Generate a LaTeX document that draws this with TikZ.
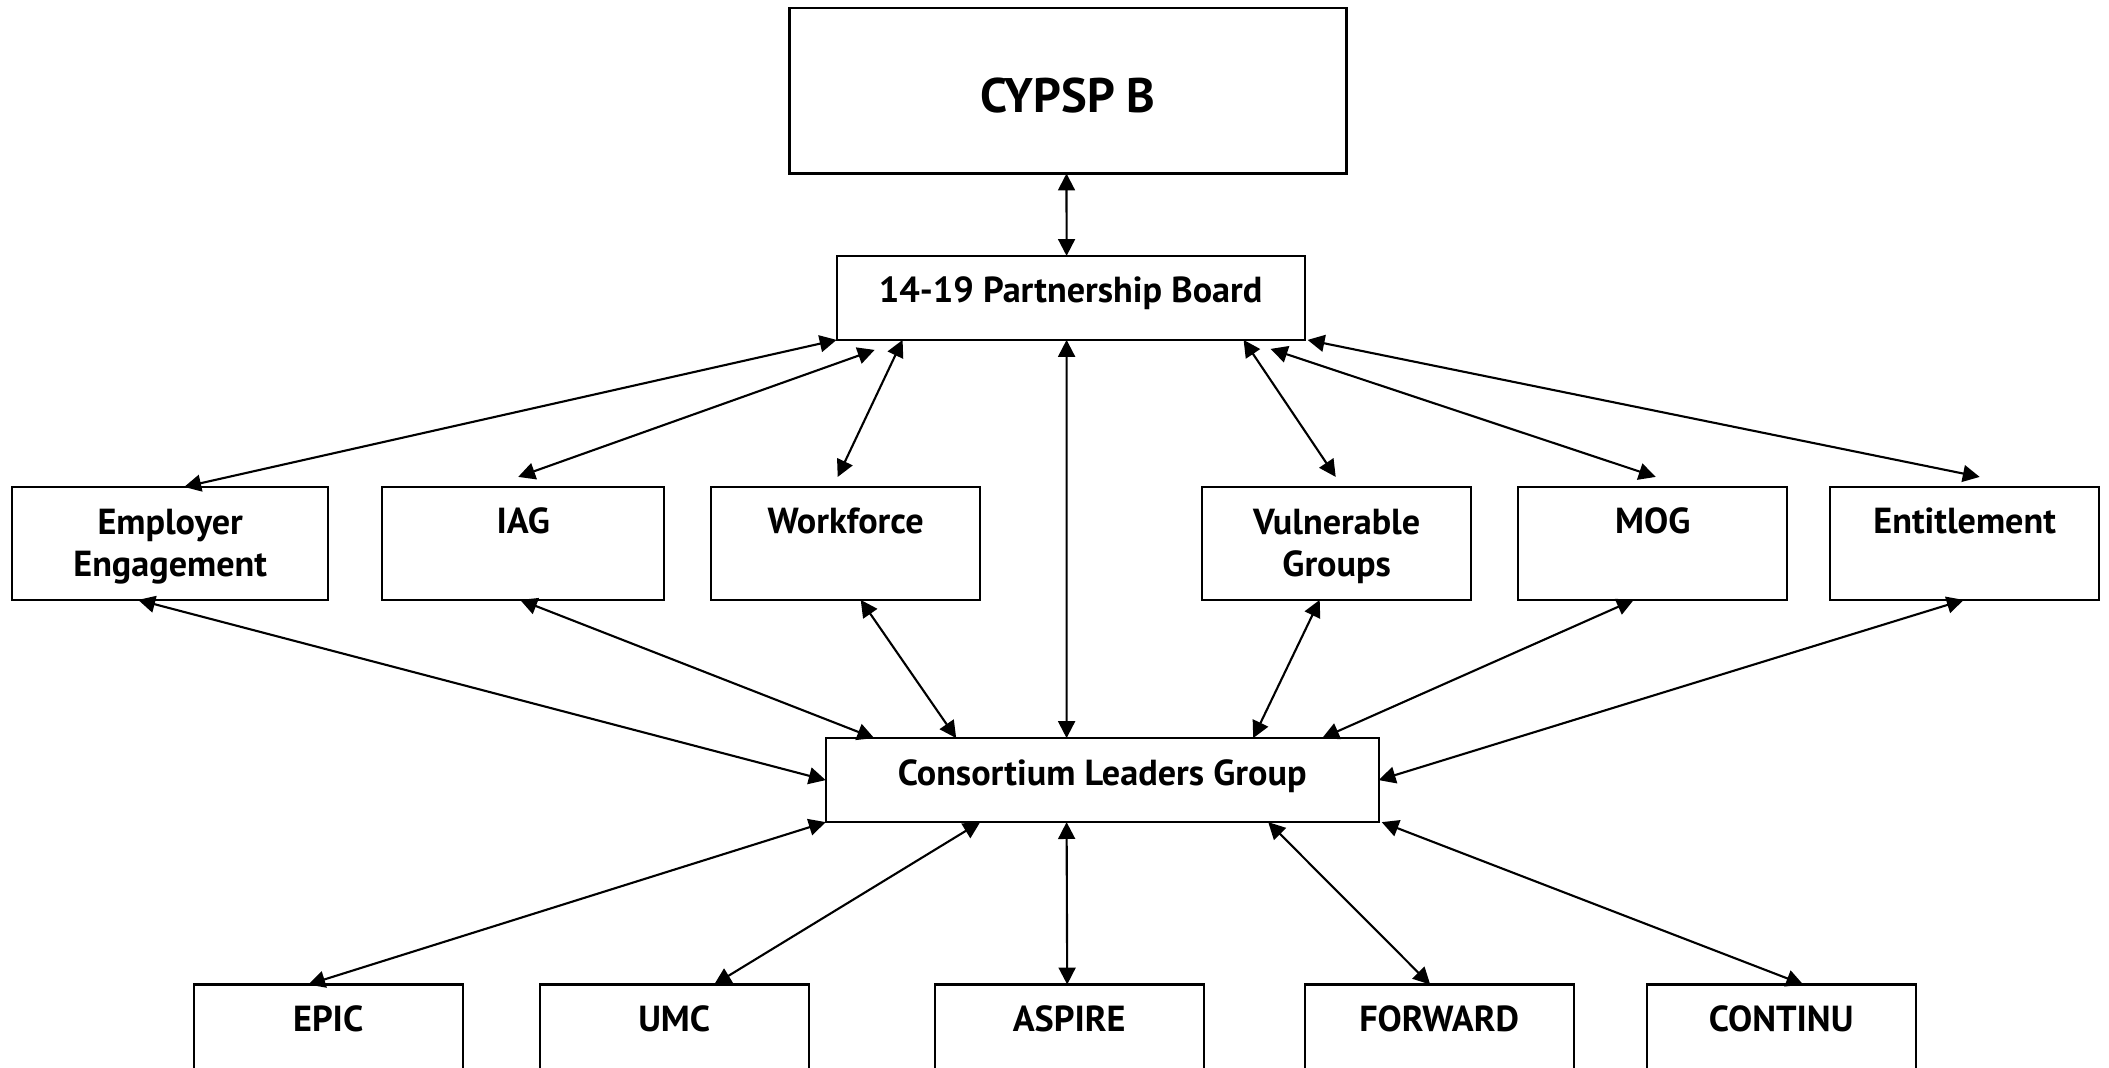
\documentclass[tikz,border=0pt]{standalone}
\usepackage{fontspec}
\setmainfont{PT Sans}
\usetikzlibrary{arrows.meta}
\usetikzlibrary{positioning}

\begin{document}
\begin{tikzpicture}[<->,>={Triangle[length=4.8pt,width=4.8pt]},line width=0.6pt,
			font=\fontsize{10.3}{12.2}\selectfont\bfseries]
			\tikzstyle{box}=[draw,-,outer sep=0pt,inner xsep=2pt,inner ysep=0pt,align=center,
			text height=0.47cm,text depth=0.66cm,minimum width=2.69cm]
			\tikzstyle{twoline}=[box,text height=0.90cm,text depth=0.23cm]
			\tikzstyle{bar}=[box,text depth=0.37cm]
			\path[use as bounding box,clip] (0,0) rectangle (21.09,-10.67);
			
			\node[box,minimum width=5.57cm,text height=1.045cm,text depth=0.609cm,
			font=\fontsize{13.8}{16}\selectfont\bfseries] (cypsp) at (10.68,-0.908) {CYPSP B};
			\node[bar,minimum width=4.68cm]      (board) at (10.706,-2.979) {14-19 Partnership Board};
			
			\node[twoline,minimum width=3.16cm]  (emp) at (1.702,-5.434) {Employer\\Engagement};
			\node[box,minimum width=2.82cm]      (iag)  [right=0.54cm of emp]  {IAG};
			\node[box]                           (work) [right=0.47cm of iag]  {Workforce};
			\node[twoline]                       (vul)  [right=2.22cm of work] {Vulnerable\\Groups};
			\node[box]                           (mog)  [right=0.47cm of vul]  {MOG};
			\node[box]                           (ent)  [right=0.43cm of mog]  {Entitlement};
			
			\node[bar,minimum width=5.53cm]      (clg) at (11.022,-7.801) {Consortium Leaders Group};
			
			\node[box]                           (epic) at (3.282,-10.41) {EPIC};
			\node[box]                           (umc)     [right=0.77cm of epic]   {UMC};
			\node[box]                           (aspire)  [right=1.26cm of umc]    {ASPIRE};
			\node[box]                           (forward) [right=1.01cm of aspire] {FORWARD};
			\node[box]                           (continu) [right=0.73cm of forward] {CONTINU};
			
			
			\path ([xshift=-0.015cm]cypsp.south) edge ([xshift=-0.04cm]board.north)
			(board.south west) edge ([xshift=0.14cm]emp.north)
			([xshift=-1.96cm,yshift=-0.1cm]board.south) edge ([xshift=-0.05cm,yshift=0.1cm]iag.north)
			([xshift=-1.68cm]board.south) edge ([xshift=-0.08cm,yshift=0.1cm]work.north)
			([xshift=-0.04cm]board.south) edge ([xshift=-0.356cm]clg.north)
			([xshift=1.73cm]board.south) edge ([xshift=-0.01cm,yshift=0.1cm]vul.north)
			([xshift=2.0cm,yshift=-0.09cm]board.south) edge ([xshift=0.03cm,yshift=0.1cm]mog.north)
			([xshift=0.03cm]board.south east) edge ([xshift=0.15cm,yshift=0.1cm]ent.north)
			
			([xshift=-0.32cm]emp.south) edge (clg.west)
			([xshift=-0.03cm]iag.south) edge ([xshift=-2.28cm]clg.north)
			([xshift=0.15cm]work.south) edge ([xshift=-1.46cm]clg.north)
			([xshift=-0.17cm]vul.south) edge ([xshift=1.51cm]clg.north)
			([xshift=-0.19cm]mog.south) edge ([xshift=2.2cm]clg.north)
			([xshift=-0.01cm]ent.south) edge (clg.east)
			
			(clg.south west) edge ([xshift=-0.2cm]epic.north)
			([xshift=-1.22cm]clg.south) edge ([xshift=0.4cm]umc.north)
			([xshift=-0.356cm]clg.south) edge ([xshift=-0.02cm]aspire.north)
			([xshift=1.66cm]clg.south) edge ([xshift=-0.09cm]forward.north)
			([xshift=0.03cm]clg.south east) edge ([xshift=0.22cm]continu.north)
			;
			\end{tikzpicture}
\end{document}
